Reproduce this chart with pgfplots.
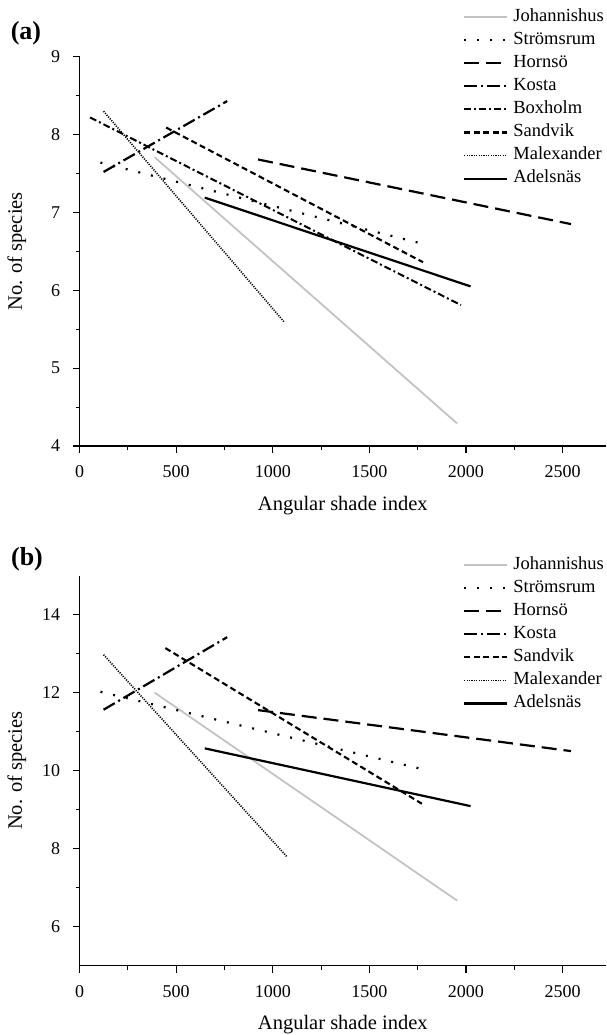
\documentclass[border=0pt]{standalone}
\usepackage{fontspec}
\setmainfont{Liberation Serif}
\usepackage{pgfplots}
\pgfplotsset{compat=1.18}
\definecolor{lgray}{RGB}{195,195,195}
\pgfplotsset{
  myaxis/.style={
    scale only axis,
    width=526.4pt,
    xmin=0, xmax=2725,
    axis lines=left,
    axis line style={-, line width=1.3pt},
    tick align=outside,
    major tick length=7pt, minor tick length=4pt,
    tick style={black, line width=1.1pt},
    xtick={0,500,1000,1500,2000,2500},
    minor x tick num=1,
    minor y tick num=1,
    /pgf/number format/assume math mode=true,
    /pgf/number format/1000 sep={},
    ticklabel style={font=\fontsize{18}{21}\selectfont},
    xticklabel style={yshift=-9pt},
    yticklabel style={xshift=-9pt},
    label style={font=\fontsize{20.5}{24}\selectfont},
    xlabel={Angular shade index},
    ylabel={No. of species},
    xlabel style={at={(axis description cs:0.5,-0.152)}, anchor=center},
    ylabel style={at={(axis description cs:-0.119,0.5)}, anchor=center},
    legend image code/.code={\draw[##1] (0pt,0pt) -- (43pt,0pt);},
    legend style={draw=none, fill=none, anchor=north west,
      font=\fontsize{18.5}{21}\selectfont,
      inner sep=0pt, row sep=6.6pt, column sep=5pt,
      nodes={inner sep=0pt, text height=12.5pt, text depth=4pt}},
    legend cell align=left,
  },
  sJ/.style={lgray, line width=1.8pt},
  sS/.style={black, line width=2.2pt, dash pattern=on 2pt off 11pt},
  sH/.style={black, line width=2.2pt, dash pattern=on 15pt off 7pt},
  sK/.style={black, line width=2.2pt, dash pattern=on 13pt off 4pt on 2pt off 4pt},
  sB/.style={black, line width=2pt, dash pattern=on 7pt off 3pt on 2pt off 3pt},
  sSa/.style={black, line width=2.1pt, dash pattern=on 6pt off 3.5pt},
  sM/.style={black, line width=1.6pt, dash pattern=on 1.1pt off 1.3pt},
  sA/.style={black, line width=2.2pt},
}
\begin{document}
\begin{tikzpicture}[x=1pt,y=1pt]
\useasboundingbox (0,-1035) rectangle (606,0);
% panel (a)
\begin{axis}[myaxis, at={(79.6pt,-446pt)}, anchor=origin,
  height=389.3pt, ymin=4, ymax=9, ytick={4,5,6,7,8,9},
  legend style={at={(0.7283,1.1238)}}]
\addplot[sJ] coordinates {(388,7.71) (1954,4.29)};
\addlegendentry{Johannishus}
\addplot[sS] coordinates {(108,7.64) (1772,6.60)};
\addlegendentry{Strömsrum}
\addplot[sH] coordinates {(924,7.68) (2544,6.85)};
\addlegendentry{Hornsö}
\addplot[sK] coordinates {(124,7.52) (764,8.43)};
\addlegendentry{Kosta}
\addplot[sB] coordinates {(54,8.22) (1974,5.81)};
\addlegendentry{Boxholm}
\addplot[sSa] coordinates {(448,8.09) (1778,6.36)};
\addlegendentry{Sandvik}
\addplot[sM] coordinates {(124,8.30) (1060,5.59)};
\addlegendentry{Malexander}
\addplot[sA] coordinates {(648,7.19) (2024,6.05)};
\addlegendentry{Adelsnäs}
\end{axis}
% panel (b)
\begin{axis}[myaxis, at={(79.6pt,-965.7pt)}, anchor=origin,
  height=390.2pt, ymin=5, ymax=15, ytick={6,8,10,12,14},
  legend style={at={(0.7283,1.0487)}}]
\addplot[sJ] coordinates {(388,12.00) (1954,6.67)};
\addlegendentry{Johannishus}
\addplot[sS] coordinates {(108,12.02) (1772,10.04)};
\addlegendentry{Strömsrum}
\addplot[sH] coordinates {(924,11.55) (2544,10.50)};
\addlegendentry{Hornsö}
\addplot[sK] coordinates {(124,11.56) (764,13.42)};
\addlegendentry{Kosta}
\addplot[sSa] coordinates {(444,13.14) (1772,9.15)};
\addlegendentry{Sandvik}
\addplot[sM] coordinates {(124,12.97) (1072,7.80)};
\addlegendentry{Malexander}
\addplot[sA] coordinates {(648,10.57) (2024,9.09)};
\addlegendentry{Adelsnäs}
\end{axis}
\node at (26,-33) {\fontsize{26}{30}\selectfont\bfseries (a)};
\node at (27,-559) {\fontsize{26}{30}\selectfont\bfseries (b)};
\end{tikzpicture}
\end{document}
